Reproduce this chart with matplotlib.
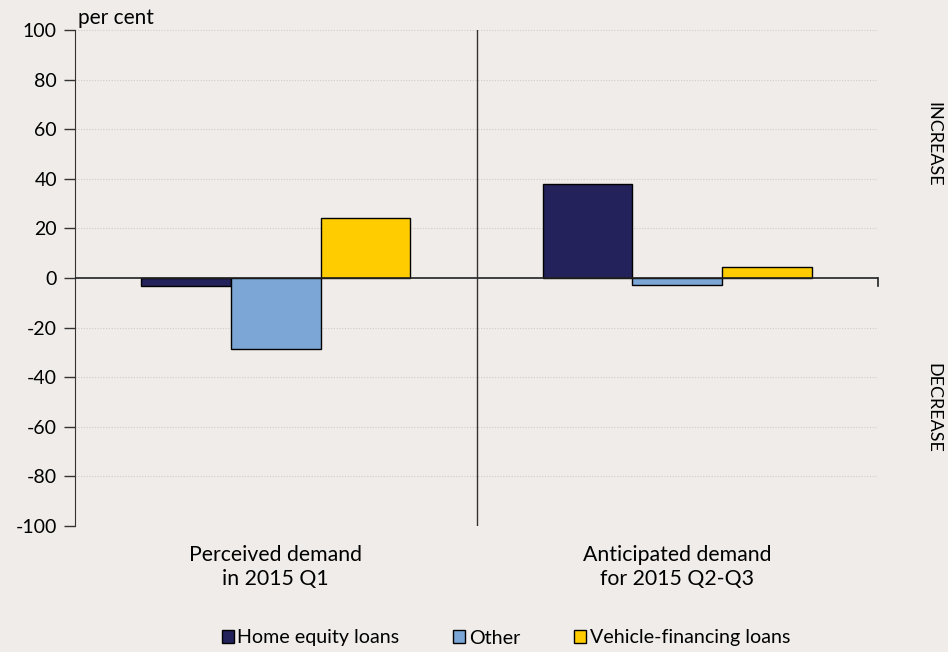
import matplotlib
matplotlib.use("Agg")
import matplotlib.pyplot as plt
import numpy as np

plt.rcParams['font.family'] = ['Lato', 'DejaVu Sans']

categories = ["Perceived demand\nin 2015 Q1", "Anticipated demand\nfor 2015 Q2-Q3"]
series_names = ["Home equity loans", "Other", "Vehicle-financing loans"]
home_equity = [-3.2, 37.9]
other = [-28.6, -2.8]
vehicle = [24.2, 4.4]
colors = ["#23225A", "#7BA6D6", "#FFCC00"]
yticks = [100, 80, 60, 40, 20, 0, -20, -40, -60, -80, -100]

bg = "#EFECE9"
fig = plt.figure(figsize=(9.48, 6.52), dpi=100, facecolor=bg)
ax = fig.add_axes([75/948, 1-526/652, (878-75)/948, (526-30)/652], facecolor=bg)

x = np.arange(len(categories))
w = 0.223
for i, (vals, name, c) in enumerate(zip([home_equity, other, vehicle], series_names, colors)):
    ax.bar(x + (i - 1) * w, vals, w, color=c, edgecolor="black", linewidth=1.0, label=name, zorder=3)

ax.set_xlim(-0.5, 1.5)
ax.set_ylim(-100, 100)
ax.set_yticks(yticks)
ax.set_yticklabels([str(t) for t in yticks], fontsize=14)
ax.tick_params(axis='y', length=8, width=1, direction='out', pad=5, colors="#333333", labelcolor="black")
ax.set_xticks([])
for t in yticks:
    if t != 0:
        ax.axhline(t, color="#D0CCC8", lw=0.8, ls=(0, (1, 1.5)), zorder=1)
ax.axhline(0, color="#222222", lw=1.2, zorder=4)
ax.axvline(0.5, color="#333333", lw=1.0, zorder=4)
ax.plot([1.5, 1.5], [0, -3.2], color="#222222", lw=1.2, clip_on=False)

for s in ["top", "right", "bottom"]:
    ax.spines[s].set_visible(False)
ax.spines["left"].set_color("#333333")

for xi, lab in zip(x, categories):
    ax.text(xi, -107.5, lab, ha="center", va="top", fontsize=15.3, linespacing=1.27)

fig.text(78/948, 1-18/652, "per cent", fontsize=15, ha="left", va="center")
fig.text(933/948, 1-144/652, "INCREASE", fontsize=13, rotation=-90, ha="center", va="center")
fig.text(933/948, 1-408/652, "DECREASE", fontsize=13, rotation=-90, ha="center", va="center")

handles, labels = ax.get_legend_handles_labels()
leg = fig.legend(handles, labels, loc="center", bbox_to_anchor=(506/948, 1-638/652), ncol=3,
                 frameon=False, fontsize=14.1, handlelength=0.6, handleheight=0.6,
                 handletextpad=0.2, columnspacing=2.75)

fig.savefig("out.png", dpi=100, facecolor=bg)
